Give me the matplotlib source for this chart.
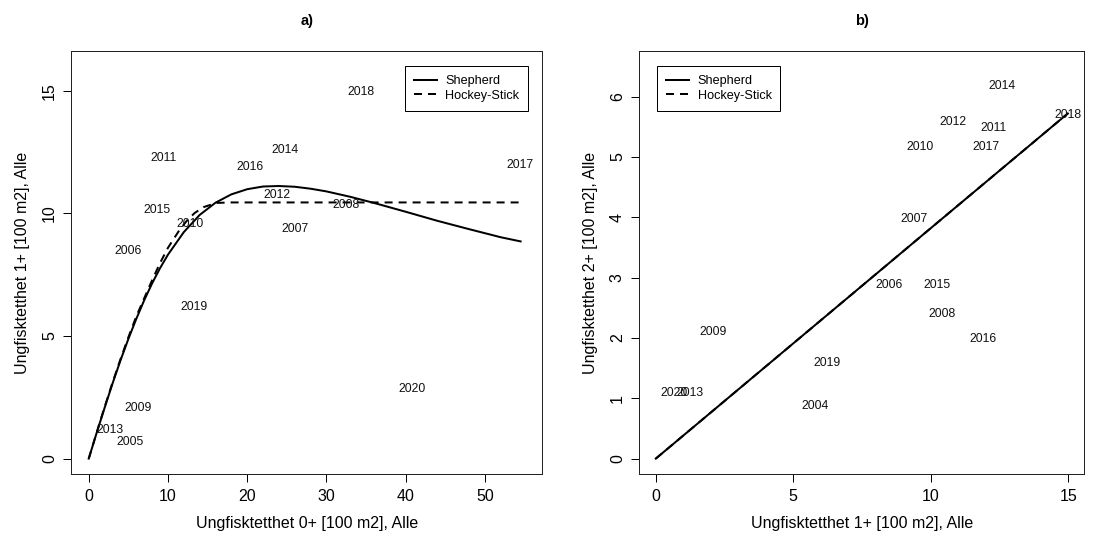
import matplotlib.pyplot as plt
import numpy as np

plt.rcParams['font.family'] = ['Liberation Sans', 'DejaVu Sans']

# a) 0+ density vs 1+ density, labelled by year
years_a = ['2005', '2006', '2007', '2008', '2009', '2010', '2011', '2012',
           '2013', '2014', '2015', '2016', '2017', '2018', '2019', '2020']
dens0_a = [5.26, 4.96, 25.98, 32.5, 6.22, 12.74, 9.46, 23.75,
           2.65, 24.72, 8.61, 20.3, 54.48, 34.39, 13.24, 40.86]
dens1_a = [0.67, 8.46, 9.37, 10.35, 2.07, 9.59, 12.25, 10.77,
           1.18, 12.57, 10.13, 11.88, 11.97, 14.96, 6.17, 2.86]

# fitted recruitment curves
shep_x_a = [0, 1, 2, 3, 4, 5, 6, 7, 8, 9, 10, 12, 14, 16, 18, 20, 22, 24,
            26, 28, 30, 33, 36, 40, 44, 48, 52, 54.5]
shep_y_a = [0, 1.05, 2.07, 3.06, 4.0, 4.88, 5.7, 6.46, 7.15, 7.77, 8.32,
            9.24, 9.94, 10.44, 10.78, 10.99, 11.1, 11.12, 11.09, 11.01,
            10.9, 10.68, 10.43, 10.07, 9.7, 9.36, 9.03, 8.86]
hs_x_a = [0, 1, 2, 3, 4, 5, 6, 7.35, 8.03, 9, 10, 11.48, 12.5, 13.37,
          14.5, 16.1, 18, 54.5]
hs_y_a = [0, 1.06, 2.1, 3.1, 4.05, 4.95, 5.8, 6.8, 7.3, 7.98, 8.6, 9.34,
          9.75, 10.02, 10.26, 10.43, 10.45, 10.45]

# b) 1+ density vs 2+ density
years_b = ['2004', '2006', '2007', '2008', '2009', '2010', '2011', '2012',
           '2013', '2014', '2015', '2016', '2017', '2018', '2019', '2020']
dens1_b = [5.79, 8.47, 9.39, 10.39, 2.1, 9.6, 12.29, 10.79,
           1.26, 12.6, 10.22, 11.89, 11.99, 14.98, 6.22, 0.67]
dens2_b = [0.88, 2.88, 3.97, 2.39, 2.09, 5.17, 5.48, 5.58,
           1.09, 6.18, 2.88, 1.98, 5.17, 5.69, 1.59, 1.09]

shep_x_b = [0, 5, 10, 14.98]
shep_y_b = [0, 1.91, 3.82, 5.72]
hs_x_b = [0, 5, 10, 14.98]
hs_y_b = [0, 1.91, 3.82, 5.72]


def r_lim(lo, hi):
    # R style 4% axis extension
    d = (hi - lo) * 0.04
    return lo - d, hi + d


def draw_panel(ax, x, y, labels, sx, sy, hx, hy, title, xlab, ylab):
    for xi, yi, lab in zip(x, y, labels):
        ax.text(xi, yi, lab, ha='center', va='center', fontsize=9.2, color='#111111')
    ax.plot(sx, sy, color='black', lw=1.5, label='Shepherd')
    ax.plot(hx, hy, color='black', lw=1.5, linestyle=(0, (4, 3)), label='Hockey-Stick')
    ax.set_title(title, fontweight='bold', fontsize=11, pad=19)
    ax.set_xlabel(xlab, fontsize=12, labelpad=9)
    ax.set_ylabel(ylab, fontsize=12, labelpad=9)
    ax.tick_params(direction='out', length=5.8, width=0.75, labelsize=12, pad=5)
    ax.tick_params(axis='y', labelrotation=90)
    for sp in ax.spines.values():
        sp.set_linewidth(0.75)
        sp.set_color('#222222')


def add_legend(ax, loc, anchor):
    leg = ax.legend(loc=loc, bbox_to_anchor=anchor, fontsize=9.5,
                    frameon=True, fancybox=False, edgecolor='black', framealpha=1,
                    handlelength=1.8, handletextpad=0.7, labelspacing=0.2,
                    borderpad=0.7, borderaxespad=0)
    leg.get_frame().set_linewidth(0.75)


fig = plt.figure(figsize=(1099 / 96, 540 / 96), dpi=96)
ax1 = fig.add_axes([71.3 / 1099, 1 - 474.3 / 540, 470.7 / 1099, 423.6 / 540])
ax2 = fig.add_axes([639.3 / 1099, 1 - 474.3 / 540, 445 / 1099, 423.6 / 540])

draw_panel(ax1, dens0_a, dens1_a, years_a, shep_x_a, shep_y_a, hs_x_a, hs_y_a,
           'a)', 'Ungfisktetthet 0+ [100 m2], Alle', 'Ungfisktetthet 1+ [100 m2], Alle')
ax1.set_xlim(*r_lim(0, 55))
ax1.set_ylim(*r_lim(0, 16))
ax1.set_xticks([0, 10, 20, 30, 40, 50])
ax1.set_yticks([0, 5, 10, 15])
for t in ax1.get_yticklabels():
    t.set_va('center')
add_legend(ax1, 'upper right', (0.971, 0.963))

draw_panel(ax2, dens1_b, dens2_b, years_b, shep_x_b, shep_y_b, hs_x_b, hs_y_b,
           'b)', 'Ungfisktetthet 1+ [100 m2], Alle', 'Ungfisktetthet 2+ [100 m2], Alle')
ax2.set_xlim(*r_lim(0, 14.98))
ax2.set_ylim(*r_lim(0, 6.5))
ax2.set_xticks([0, 5, 10, 15])
ax2.set_yticks([0, 1, 2, 3, 4, 5, 6])
for t in ax2.get_yticklabels():
    t.set_va('center')
add_legend(ax2, 'upper left', (0.04, 0.963))

fig.savefig('out.png', dpi=96)
